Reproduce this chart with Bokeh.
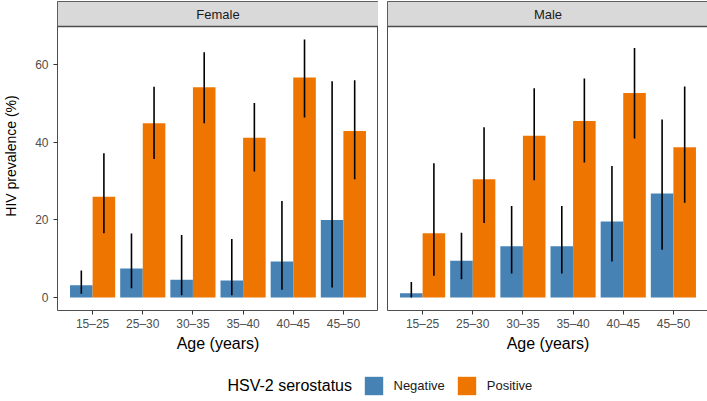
from bokeh.plotting import figure
from bokeh.models import (FactorRange, Range1d, ColumnDataSource, BoxAnnotation, Label,
                          Span, Legend, LegendItem, FixedTicker)
from bokeh.transform import dodge
from bokeh.layouts import row, column
from bokeh.embed import file_html
from bokeh.resources import INLINE

# ---------------- data ----------------
ages = ["15–25", "25–30", "30–35", "35–40", "40–45", "45–50"]
serostatus = ["Negative", "Positive"]

female_neg = [3.2, 7.5, 4.6, 4.4, 9.3, 20.0]
female_neg_lo = [1.0, 2.4, 0.6, 0.6, 2.0, 2.6]
female_neg_hi = [7.0, 16.5, 16.1, 15.1, 24.9, 55.7]
female_pos = [26.0, 44.9, 54.2, 41.2, 56.7, 42.9]
female_pos_lo = [16.6, 35.7, 44.9, 32.5, 46.4, 30.5]
female_pos_hi = [37.2, 54.3, 63.2, 50.1, 66.5, 56.0]

male_neg = [1.1, 9.5, 13.2, 13.2, 19.6, 26.8]
male_neg_lo = [0.0, 4.7, 6.2, 6.2, 9.3, 12.3]
male_neg_hi = [4.0, 16.7, 23.6, 23.6, 33.9, 45.9]
male_pos = [16.6, 30.5, 41.7, 45.5, 52.7, 38.7]
male_pos_lo = [5.6, 19.2, 30.2, 34.8, 41.0, 24.4]
male_pos_hi = [34.6, 43.9, 53.9, 56.4, 64.3, 54.4]

y_ticks = [0, 20, 40, 60]

# ---------------- styling / layout ----------------
FONT = "Liberation Sans"
BLUE = "#4682B4"
ORANGE = "#EE7600"
BORDER = "#4D4D4D"
STRIP_FILL = "#D9D9D9"

FRAME_W = 321
PANEL_PX = 284
STRIP_PX = 25
TOP_PX = 1
BOTTOM_PX = 42
LEFT_PX = 54
GAP_PX = 9
RIGHT_PX = 2
LEGEND_H = 44
TOTAL_W = LEFT_PX + FRAME_W + GAP_PX + FRAME_W + RIGHT_PX
DODGE = 0.225
BAR_W = 0.45

all_hi = female_neg_hi + female_pos_hi + male_neg_hi + male_pos_hi
all_lo = [0] + female_neg_lo + female_pos_lo + male_neg_lo + male_pos_lo
d_lo, d_hi = min(all_lo), max(all_hi)
pad = 0.05 * (d_hi - d_lo)
panel_bottom = d_lo - pad
panel_top = d_hi + pad
strip_units = STRIP_PX * (panel_top - panel_bottom) / PANEL_PX
y_range = Range1d(panel_bottom, panel_top + strip_units)


def make_panel(title, neg, neg_lo, neg_hi, pos, pos_lo, pos_hi, show_y):
    left = LEFT_PX if show_y else GAP_PX
    right = 0 if show_y else RIGHT_PX
    p = figure(
        x_range=FactorRange(factors=ages, range_padding=0.2, range_padding_units="absolute"),
        y_range=y_range,
        frame_width=FRAME_W, frame_height=STRIP_PX + PANEL_PX,
        min_border_left=left, min_border_right=right,
        min_border_top=TOP_PX, min_border_bottom=BOTTOM_PX,
        y_axis_location="left" if show_y else None,
        output_backend="svg", toolbar_location=None,
        background_fill_color="white", border_fill_color="white",
    )
    p.outline_line_color = BORDER
    p.outline_line_width = 1
    p.xgrid.visible = False
    p.ygrid.visible = False

    src = ColumnDataSource(dict(age=ages, neg=neg, neg_lo=neg_lo, neg_hi=neg_hi,
                                pos=pos, pos_lo=pos_lo, pos_hi=pos_hi))
    xn = dodge("age", -DODGE, range=p.x_range)
    xp = dodge("age", DODGE, range=p.x_range)
    p.vbar(x=xn, top="neg", bottom=0, width=BAR_W, source=src,
           fill_color=BLUE, line_color=None)
    p.vbar(x=xp, top="pos", bottom=0, width=BAR_W, source=src,
           fill_color=ORANGE, line_color=None)
    p.segment(x0=xn, y0="neg_lo", x1=xn, y1="neg_hi", source=src,
              line_color="black", line_width=1.6)
    p.segment(x0=xp, y0="pos_lo", x1=xp, y1="pos_hi", source=src,
              line_color="black", line_width=1.6)

    # facet strip
    p.add_layout(BoxAnnotation(bottom=panel_top, fill_color=STRIP_FILL, fill_alpha=1,
                               line_color=BORDER, line_width=1, line_alpha=1))
    p.add_layout(Span(location=panel_top, dimension="width", line_color=BORDER,
                      line_width=1.5))
    p.add_layout(Label(x=len(ages) / 2, y=panel_top + strip_units / 2, text=title,
                       text_align="center", text_baseline="middle",
                       text_font=FONT, text_font_size="13px",
                       text_color="#1A1A1A"))

    # x axis
    xa = p.xaxis[0]
    xa.axis_label = "Age (years)"
    xa.axis_label_text_font = FONT
    xa.axis_label_text_font_size = "16px"
    xa.axis_label_text_font_style = "normal"
    xa.axis_label_text_color = "black"
    xa.axis_label_standoff = 1
    xa.axis_line_color = None
    xa.major_tick_out = 4
    xa.major_tick_in = 0
    xa.major_tick_line_color = "#333333"
    xa.major_label_text_font = FONT
    xa.major_label_text_font_size = "12px"
    xa.major_label_text_color = "#4D4D4D"
    xa.major_label_standoff = 2

    if show_y:
        ya = p.yaxis[0]
        ya.ticker = FixedTicker(ticks=y_ticks)
        ya.axis_label = "HIV prevalence (%)"
        ya.axis_label_text_font = FONT
        ya.axis_label_text_font_size = "14px"
        ya.axis_label_text_font_style = "normal"
        ya.axis_label_text_color = "black"
        ya.axis_label_standoff = 13
        ya.axis_line_color = None
        ya.major_tick_out = 4
        ya.major_tick_in = 0
        ya.minor_tick_line_color = None
        ya.major_tick_line_color = "#333333"
        ya.major_label_text_font = FONT
        ya.major_label_text_font_size = "12px"
        ya.major_label_text_color = "#4D4D4D"
        ya.major_label_standoff = 5
    return p


pf = make_panel("Female", female_neg, female_neg_lo, female_neg_hi,
                female_pos, female_pos_lo, female_pos_hi, True)
pm = make_panel("Male", male_neg, male_neg_lo, male_neg_hi,
                male_pos, male_pos_lo, male_pos_hi, False)

# ---------------- legend (pixel-unit figure) ----------------
lf = figure(width=TOTAL_W, height=LEGEND_H,
            x_range=Range1d(0, TOTAL_W), y_range=Range1d(0, LEGEND_H),
            min_border_left=0, min_border_right=0,
            min_border_top=0, min_border_bottom=0, toolbar_location=None,
            output_backend="svg", x_axis_location=None, y_axis_location=None,
            outline_line_color=None, background_fill_color="white",
            border_fill_color="white")
lf.xgrid.visible = False
lf.ygrid.visible = False
# zero-height key renderers: only their legend swatches are visible
rn = lf.vbar(x=[0], top=[0], bottom=[0], width=0, fill_color=BLUE, line_color=None)
rp = lf.vbar(x=[0], top=[0], bottom=[0], width=0, fill_color=ORANGE, line_color=None)

KEY = 23
KEY_BOTTOM = 1.5
LEGEND_X = 361.5
legend = Legend(
    items=[LegendItem(label=serostatus[0], renderers=[rn]),
           LegendItem(label=serostatus[1], renderers=[rp])],
    orientation="horizontal", location=(LEGEND_X, KEY_BOTTOM),
    label_text_font=FONT, label_text_font_size="13px", label_text_color="#1A1A1A",
    glyph_width=KEY, glyph_height=KEY, label_standoff=9, spacing=10,
    padding=0, margin=0, border_line_color=None, background_fill_alpha=0,
)
lf.add_layout(legend, "center")
lf.add_layout(Label(x=LEGEND_X - 10, y=KEY_BOTTOM + KEY / 2, text="HSV-2 serostatus",
                    text_align="right", text_baseline="middle",
                    text_font=FONT, text_font_size="16px", text_color="black"))

layout = column(row(pf, pm), lf)
open("out.html", "w").write(file_html(layout, INLINE))
